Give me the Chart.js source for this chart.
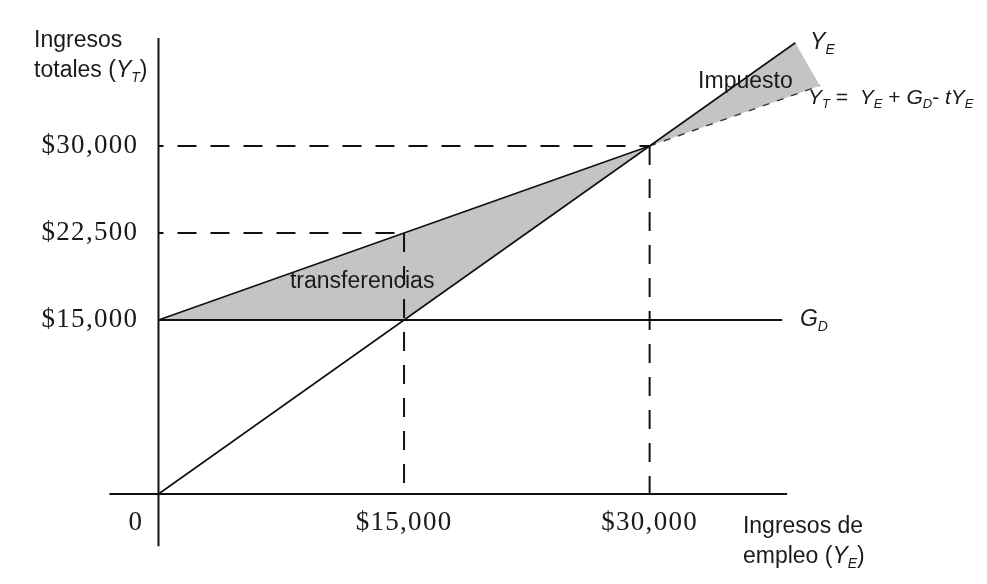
<!DOCTYPE html>
<html>
<head>
<meta charset="utf-8">
<script src="https://cdn.jsdelivr.net/npm/chart.js@4.4.0/dist/chart.umd.min.js"></script>
<style>
  body { margin: 0; background: #fff; }
  #wrap { width: 987px; height: 584px; }
</style>
</head>
<body>
<div id="wrap"><canvas id="graph_zone"></canvas></div>
<script>
// values
let yeX = [0, 15000, 30000, 38900];          // Y_E = ingresos de empleo
let yeY = [0, 15000, 30000, 38900];
let ytX = [0, 15000, 30000, 40400];          // Y_T = Y_E + G_D - tY_E
let ytY = [15000, 22500, 30000, 35200];
let gdX = [0, 38100];                        // G_D
let gdY = [15000, 15000];

// shaded areas
let transX = [0, 15000, 30000];
let transTop = [15000, 22500, 30000];
let transBottom = [15000, 15000, 30000];
let taxX = [30000, 38900, 40400];
let taxTop = [30000, 38900, 35200];
let taxBottom = [30000, 34450, 35200];

// ticks
let xTicks = [15000, 30000];
let xTickLabels = ['$15,000', '$30,000'];
let yTicks = [15000, 22500, 30000];
let yTickLabels = ['$15,000', '$22,500', '$30,000'];

// axis lines (they run a little past the origin)
let xAxisX = [-3000, 38400];
let yAxisY = [-4500, 39300];

function pts(xs, ys) {
    return xs.map((x, i) => ({ x: x, y: ys[i] }));
}

const GREY = '#c4c4c4';
const INK = '#111';

let datasets = [
    // fills first, with invisible borders
    { data: pts(transX, transBottom), borderColor: 'rgba(0,0,0,0)', fill: false },
    { data: pts(transX, transTop), borderColor: 'rgba(0,0,0,0)', fill: 0, backgroundColor: GREY },
    { data: pts(taxX, taxBottom), borderColor: 'rgba(0,0,0,0)', fill: false },
    { data: pts(taxX, taxTop), borderColor: 'rgba(0,0,0,0)', fill: 2, backgroundColor: GREY },
    // dashed guides
    { data: pts([0, 30000], [30000, 30000]), borderColor: INK, borderWidth: 2, borderDash: [19, 14], borderDashOffset: 14 },
    { data: pts([0, 15000], [22500, 22500]), borderColor: INK, borderWidth: 2, borderDash: [19, 14], borderDashOffset: 14 },
    { data: pts([15000, 15000], [22500, 0]), borderColor: INK, borderWidth: 2, borderDash: [19, 14] },
    { data: pts([30000, 30000], [30000, 0]), borderColor: INK, borderWidth: 2, borderDash: [19, 14] },
    // axes
    { data: pts(xAxisX, [0, 0]), borderColor: INK, borderWidth: 2 },
    { data: pts([0, 0], yAxisY), borderColor: INK, borderWidth: 2 },
    // curves
    { data: pts(gdX, gdY), borderColor: INK, borderWidth: 2 },
    { data: pts(yeX, yeY), borderColor: INK, borderWidth: 1.6 },
    { data: pts(ytX.slice(0, 3), ytY.slice(0, 3)), borderColor: INK, borderWidth: 1.6 },
    { data: pts(ytX.slice(2), ytY.slice(2)), borderColor: '#333', borderWidth: 1.4, borderDash: [7, 8] }
];
datasets.forEach(d => { d.pointRadius = 0; d.tension = 0; });

// text placed in data coordinates
let SANS = 'Liberation Sans';
let notes = [
    { x: -7600, y: 39050, parts: [['Ingresos']] },
    { x: -7600, y: 36470, parts: [['totales ('], ['Y', 'i'], ['T', 's'], [')']] },
    { x: 35700, y: -2845, parts: [['Ingresos de']] },
    { x: 35700, y: -5430, parts: [['empleo ('], ['Y', 'i'], ['E', 's'], [')']] },
    { x: 8030, y: 18280, parts: [['transferencias']] },
    { x: 32960, y: 35520, parts: [['Impuesto']] },
    { x: 39180, y: 15000, parts: [['G', 'i'], ['D', 's']] },
    { x: 39800, y: 38900, parts: [['Y', 'i'], ['E', 's']] },
    { x: 39680, y: 34100, size: 21, parts: [['Y', 'i'], ['T', 's'], [' =  '], ['Y', 'i'], ['E', 's'], [' + '], ['G', 'i'], ['D', 's'], ['- '], ['tY', 'i'], ['E', 's']] }
];

function fontFor(style, size) {
    if (style === 's') return 'italic ' + Math.round(size * 0.62) + 'px "' + SANS + '"';
    if (style === 'i') return 'italic ' + size + 'px "' + SANS + '"';
    return size + 'px "' + SANS + '"';
}

function drawRich(ctx, parts, x, y, size) {
    ctx.textAlign = 'left';
    ctx.textBaseline = 'middle';
    let cx = x;
    parts.forEach(p => {
        ctx.font = fontFor(p[1], size);
        let dy = p[1] === 's' ? size * 0.3 : 0;
        ctx.fillText(p[0], cx, y + dy);
        cx += ctx.measureText(p[0]).width;
    });
}

let labelPlugin = {
    id: 'labels',
    afterDraw(chart) {
        let ctx = chart.ctx;
        let xs = chart.scales.x, ys = chart.scales.y;
        ctx.save();
        ctx.fillStyle = '#1a1a1a';
        ctx.font = '27px "Liberation Serif"';
        ctx.letterSpacing = '1.3px';
        ctx.textBaseline = 'middle';
        ctx.textAlign = 'right';
        yTicks.forEach((v, i) => {
            ctx.fillText(yTickLabels[i], xs.getPixelForValue(-1230), ys.getPixelForValue(v));
        });
        ctx.fillText('0', xs.getPixelForValue(-920), ys.getPixelForValue(-2500));
        ctx.textAlign = 'center';
        xTicks.forEach((v, i) => {
            ctx.fillText(xTickLabels[i], xs.getPixelForValue(v), ys.getPixelForValue(-2500));
        });
        ctx.letterSpacing = '0px';
        notes.forEach(n => {
            drawRich(ctx, n.parts, xs.getPixelForValue(n.x), ys.getPixelForValue(n.y), n.size || 23);
        });
        ctx.restore();
    }
};

let graph = document.querySelector('#graph_zone').getContext('2d');
let myChart = new Chart(graph, {
    type: 'line',
    data: { datasets: datasets },
    options: {
        responsive: true,
        maintainAspectRatio: false,
        animation: false,
        layout: { padding: { left: 93, right: 42.7, top: 30, bottom: 20.4 } },
        scales: {
            x: { type: 'linear', min: -4000, max: 48000, display: false },
            y: { type: 'linear', min: -6000, max: 40000, display: false }
        },
        plugins: {
            legend: { display: false },
            tooltip: { enabled: false },
            filler: { drawTime: 'beforeDatasetsDraw' }
        }
    },
    plugins: [labelPlugin]
});
</script>
</body>
</html>
